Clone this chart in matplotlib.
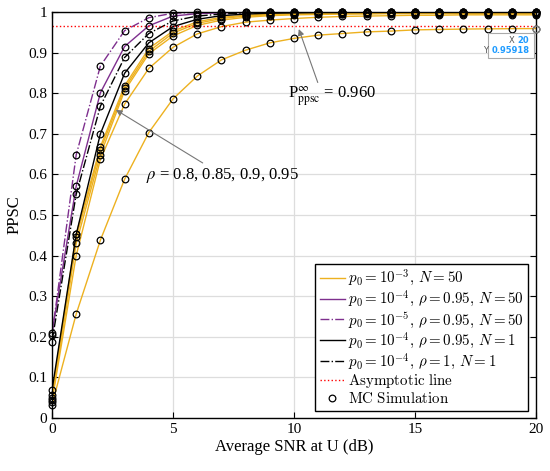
import numpy as np
import matplotlib
matplotlib.use('Agg')
import matplotlib.pyplot as plt
from matplotlib.transforms import offset_copy

plt.rcParams['font.family'] = 'Liberation Serif'
plt.rcParams['mathtext.fontset'] = 'cm'

# data
snr = list(range(0, 21))

orange_1 = [0.057, 0.452, 0.668, 0.818, 0.910, 0.953, 0.976, 0.987, 0.992, 0.995, 0.996,
            0.997, 0.998, 0.998, 0.998, 0.998, 0.998, 0.998, 0.998, 0.998, 0.998]
orange_2 = [0.050, 0.445, 0.660, 0.812, 0.903, 0.948, 0.972, 0.984, 0.990, 0.993, 0.995,
            0.996, 0.996, 0.997, 0.997, 0.997, 0.997, 0.997, 0.997, 0.997, 0.997]
orange_3 = [0.045, 0.430, 0.648, 0.806, 0.897, 0.941, 0.967, 0.980, 0.987, 0.991, 0.993,
            0.994, 0.995, 0.995, 0.996, 0.996, 0.996, 0.996, 0.996, 0.996, 0.996]
orange_4 = [0.040, 0.400, 0.637, 0.773, 0.861, 0.913, 0.946, 0.964, 0.975, 0.980, 0.984,
            0.987, 0.989, 0.990, 0.991, 0.992, 0.992, 0.993, 0.993, 0.993, 0.993]
orange_5 = [0.032, 0.256, 0.438, 0.588, 0.703, 0.786, 0.842, 0.882, 0.906, 0.924, 0.935,
            0.943, 0.947, 0.951, 0.953, 0.956, 0.957, 0.958, 0.9585, 0.959, 0.9592]
purple_dd = [0.205, 0.648, 0.867, 0.954, 0.986, 0.997, 0.999, 1.0, 1.0, 1.0, 1.0,
             1.0, 1.0, 1.0, 1.0, 1.0, 1.0, 1.0, 1.0, 1.0, 1.0]
purple = [0.210, 0.571, 0.801, 0.915, 0.966, 0.990, 0.996, 0.998, 0.999, 1.0, 1.0,
          1.0, 1.0, 1.0, 1.0, 1.0, 1.0, 1.0, 1.0, 1.0, 1.0]
black_dd = [0.188, 0.551, 0.768, 0.888, 0.947, 0.978, 0.990, 0.995, 0.998, 0.999, 1.0,
            1.0, 1.0, 1.0, 1.0, 1.0, 1.0, 1.0, 1.0, 1.0, 1.0]
black = [0.068, 0.452, 0.700, 0.849, 0.924, 0.964, 0.982, 0.991, 0.995, 0.997, 0.998,
         0.999, 0.999, 1.0, 1.0, 1.0, 1.0, 1.0, 1.0, 1.0, 1.0]
asym = 0.965

orange = '#EDB120'
purp = '#7E2F8E'

fig = plt.figure(figsize=(5.5, 4.71), dpi=100)
ax = fig.add_axes([0.0945, 0.1125, 0.88, 0.862])

for i, ys in enumerate([orange_1, orange_2, orange_3, orange_4, orange_5]):
    ax.plot(snr, ys, color=orange, lw=1.0,
            label=r'$p_0=10^{-3},\,N=50$' if i == 0 else '_nolegend_')
ax.plot(snr, purple, color=purp, lw=1.0, label=r'$p_0=10^{-4},\,\rho=0.95,\,N=50$')
ax.plot(snr, purple_dd, color=purp, lw=1.0, ls='-.', label=r'$p_0=10^{-5},\,\rho=0.95,\,N=50$')
ax.plot(snr, black, color='k', lw=1.0, label=r'$p_0=10^{-4},\,\rho=0.95,\,N=1$')
ax.plot(snr, black_dd, color='k', lw=1.0, ls='-.', label=r'$p_0=10^{-4},\,\rho=1,\,N=1$')
ax.axhline(asym, color='red', ls=':', lw=1.0, label=r'$\mathrm{Asymptotic\ line}$')

# MC simulation markers
first = True
for ys in [orange_1, orange_2, orange_3, orange_4, orange_5, purple, purple_dd, black, black_dd]:
    ax.plot(snr, ys, ls='none', marker='o', ms=4.8, mfc='none', mec='k', mew=0.9,
            clip_on=False, zorder=3,
            label=r'$\mathrm{MC\ Simulation}$' if first else '_nolegend_')
    first = False

ax.set_xlim(0, 20)
ax.set_ylim(0, 1)
ax.set_xticks([0, 5, 10, 15, 20])
ax.set_yticks(np.arange(0, 1.01, 0.1))
ax.set_yticklabels(['0', '0.1', '0.2', '0.3', '0.4', '0.5', '0.6', '0.7', '0.8', '0.9', '1'])
ax.tick_params(direction='in', top=True, right=True, labelsize=11, length=4)
ax.grid(True, color='#dddddd', lw=0.9)
for s in ax.spines.values():
    s.set_linewidth(1.0)
ax.set_xlabel('Average SNR at U (dB)', fontsize=12, labelpad=2)
ax.set_ylabel('PPSC', fontsize=12, labelpad=4)

ax.annotate(r'$\rho$ = 0.8, 0.85, 0.9, 0.95', xy=(2.64, 0.759), xytext=(3.9, 0.598),
            fontsize=12, math_fontfamily='stix', va='center', ha='left',
            arrowprops=dict(arrowstyle='-|>', color='#777777', lw=0.8,
                            mutation_scale=9, shrinkA=0, shrinkB=0))
ax.annotate(r'P$_{\mathrm{ppsc}}^{\infty}$ = 0.960', xy=(10.2, 0.958), xytext=(9.75, 0.79),
            fontsize=12, math_fontfamily='stix', va='center', ha='left',
            arrowprops=dict(arrowstyle='-|>', color='#777777', lw=0.8,
                            mutation_scale=9, shrinkA=0, shrinkB=0,
                            relpos=(0.35, 1.0)))

# data tip at (20, 0.95918)
ax.add_patch(plt.Rectangle((18.0, 0.887), 1.9, 0.061, facecolor='white',
                           edgecolor='#aaaaaa', lw=0.8, zorder=6, clip_on=False))
tx = 19.72
vx = ax.text(tx, 0.931, '20', fontsize=6, color='#1E9BFF', ha='right', va='center',
             fontfamily='DejaVu Sans', fontweight='bold', zorder=7)
vy = ax.text(tx, 0.904, '0.95918', fontsize=6, color='#1E9BFF', ha='right', va='center',
             fontfamily='DejaVu Sans', fontweight='bold', zorder=7)
fig.canvas.draw()
r = fig.canvas.get_renderer()
for val, lab, yy in [(vx, 'X', 0.931), (vy, 'Y', 0.904)]:
    w = val.get_window_extent(r).width * 72 / fig.dpi
    ax.text(tx, yy, lab, fontsize=6, color='#555555', ha='right', va='center',
            fontfamily='DejaVu Sans', zorder=7,
            transform=offset_copy(ax.transData, fig=fig, x=-(w + 2.0), units='points'))
ax.plot([20], [0.95918], ls='none', marker='o', ms=4.8, mfc='none', mec='#888888',
        mew=0.9, clip_on=False, zorder=8)

leg = ax.legend(loc='lower right', fontsize=10.8, handlelength=1.7, handletextpad=0.2,
                labelspacing=0.05, borderpad=0.3, borderaxespad=0.5, fancybox=False,
                edgecolor='k', framealpha=1)
leg.get_frame().set_linewidth(1.0)
leg.set_zorder(10)

fig.savefig('out.png', dpi=100)
